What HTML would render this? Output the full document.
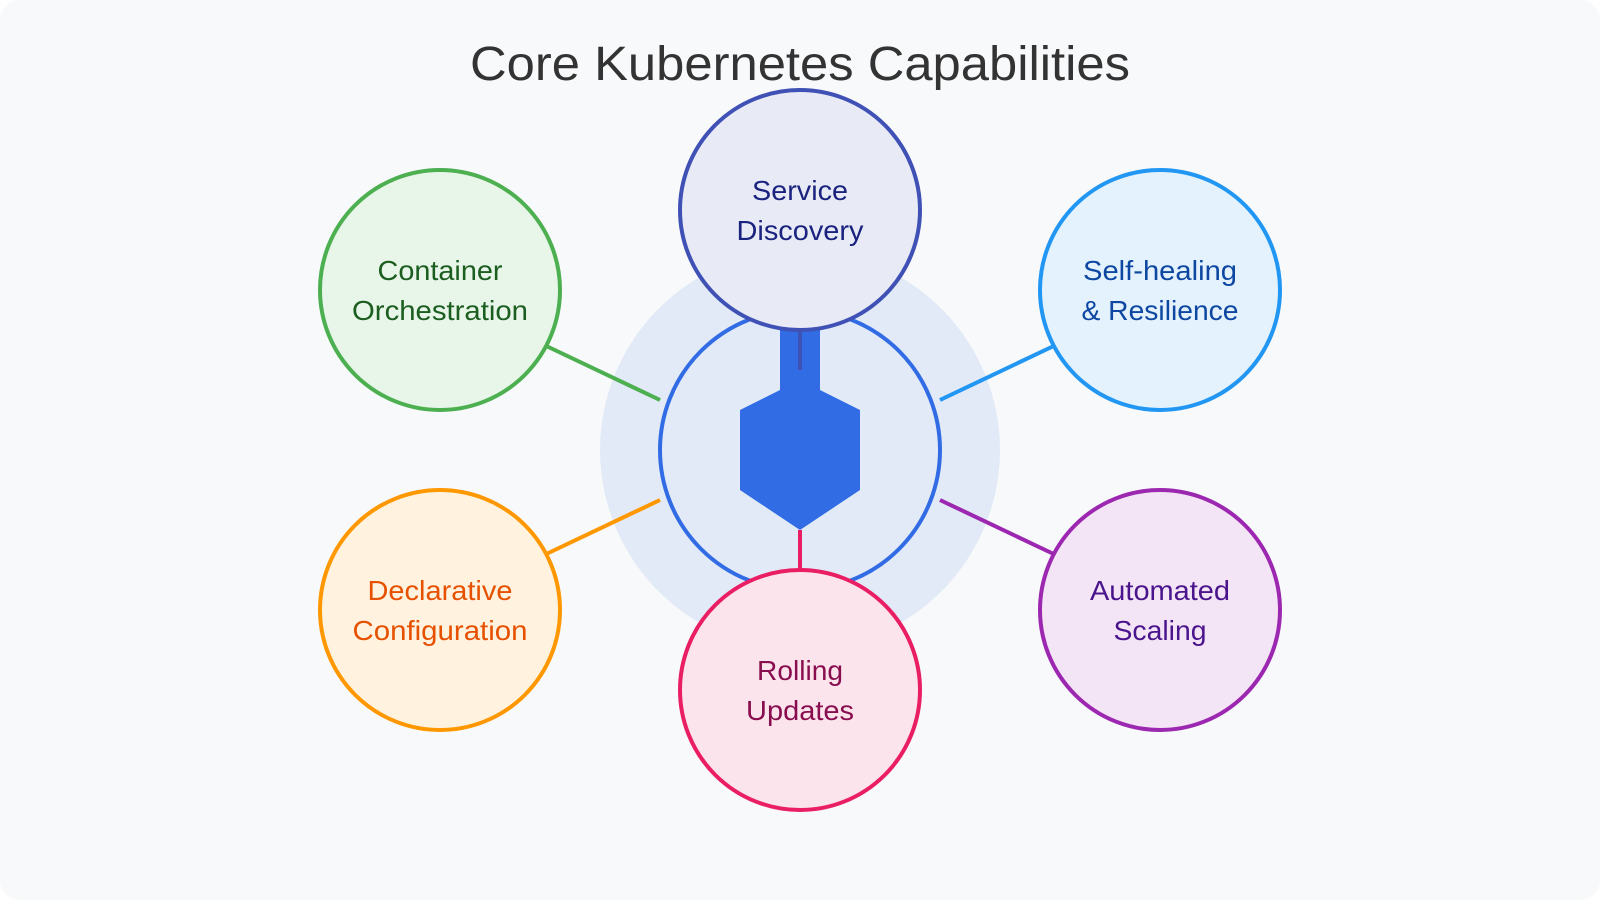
<!DOCTYPE html>
<html><head><meta charset="utf-8"><style>
html,body{margin:0;padding:0;width:1600px;height:900px;background:#fff;overflow:hidden}
svg{display:block}
text{font-family:"Liberation Sans",sans-serif;text-anchor:middle}
.l{font-size:28px}
</style></head><body>
<svg width="1600" height="900" viewBox="0 0 1600 900" xmlns="http://www.w3.org/2000/svg">
<rect width="1600" height="900" rx="20" ry="20" fill="#f8f9fa"/>
<text x="800" y="80" font-size="48" fill="#333333" textLength="660" lengthAdjust="spacingAndGlyphs">Core Kubernetes Capabilities</text>
<circle cx="800" cy="450" r="200" fill="#326ce5" fill-opacity="0.1"/>
<circle cx="800" cy="450" r="140" fill="none" stroke="#326ce5" stroke-width="4"/>
<path d="M780 320H820V390L860 410V490L800 530L740 490V410L780 390Z" fill="#326ce5"/>
<g stroke-width="4">
<line x1="800" y1="330" x2="800" y2="370" stroke="#3f51b5"/>
<line x1="800" y1="530" x2="800" y2="570" stroke="#e91e63"/>
<line x1="660" y1="400" x2="540" y2="343" stroke="#4caf50"/>
<line x1="940" y1="400" x2="1060" y2="343" stroke="#2196f3"/>
<line x1="660" y1="500" x2="540" y2="557" stroke="#ff9800"/>
<line x1="940" y1="500" x2="1060" y2="557" stroke="#9c27b0"/>
<circle cx="800" cy="210" r="120" fill="#e8eaf6" stroke="#3f51b5"/>
<circle cx="440" cy="290" r="120" fill="#e8f5e9" stroke="#4caf50"/>
<circle cx="1160" cy="290" r="120" fill="#e3f2fd" stroke="#2196f3"/>
<circle cx="440" cy="610" r="120" fill="#fff3e0" stroke="#ff9800"/>
<circle cx="1160" cy="610" r="120" fill="#f3e5f5" stroke="#9c27b0"/>
<circle cx="800" cy="690" r="120" fill="#fce4ec" stroke="#e91e63"/>
</g>
<g>
<text class="l" x="800" y="200" fill="#1a237e" textLength="96" lengthAdjust="spacingAndGlyphs">Service</text>
<text class="l" x="800" y="240" fill="#1a237e" textLength="127" lengthAdjust="spacingAndGlyphs">Discovery</text>
<text class="l" x="440" y="280" fill="#1b5e20" textLength="125" lengthAdjust="spacingAndGlyphs">Container</text>
<text class="l" x="440" y="320" fill="#1b5e20" textLength="176" lengthAdjust="spacingAndGlyphs">Orchestration</text>
<text class="l" x="1160" y="280" fill="#0d47a1" textLength="154" lengthAdjust="spacingAndGlyphs">Self-healing</text>
<text class="l" x="1160" y="320" fill="#0d47a1" textLength="157" lengthAdjust="spacingAndGlyphs">&amp; Resilience</text>
<text class="l" x="440" y="600" fill="#e65100" textLength="145" lengthAdjust="spacingAndGlyphs">Declarative</text>
<text class="l" x="440" y="640" fill="#e65100" textLength="175" lengthAdjust="spacingAndGlyphs">Configuration</text>
<text class="l" x="1160" y="600" fill="#4a148c" textLength="140" lengthAdjust="spacingAndGlyphs">Automated</text>
<text class="l" x="1160" y="640" fill="#4a148c" textLength="93" lengthAdjust="spacingAndGlyphs">Scaling</text>
<text class="l" x="800" y="680" fill="#880e4f" textLength="86" lengthAdjust="spacingAndGlyphs">Rolling</text>
<text class="l" x="800" y="720" fill="#880e4f" textLength="108" lengthAdjust="spacingAndGlyphs">Updates</text>
</g>
</svg>
</body></html>
